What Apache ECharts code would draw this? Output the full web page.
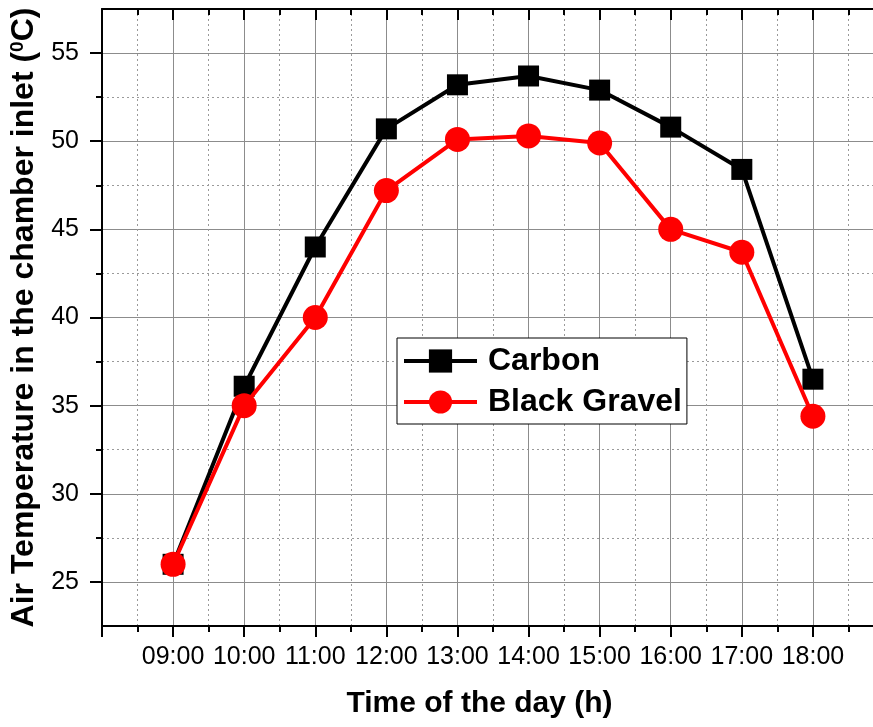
<!DOCTYPE html>
<html><head><meta charset="utf-8">
<script src="https://cdn.jsdelivr.net/npm/echarts@6/dist/echarts.min.js"></script>
<style>html,body{margin:0;padding:0;background:#fff}#c{width:873px;height:727px}</style>
</head><body><div id="c"></div>
<script>
const hours = [9, 10, 11, 12, 13, 14, 15, 16, 17, 18];
const hourLabels = ['09:00', '10:00', '11:00', '12:00', '13:00', '14:00', '15:00', '16:00', '17:00', '18:00'];
const carbon = [26.0, 36.1, 44.0, 50.7, 53.2, 53.7, 52.9, 50.8, 48.4, 36.5];
const gravel = [26.0, 35.0, 40.0, 47.2, 50.1, 50.3, 49.9, 45.0, 43.7, 34.4];
const yMajorTicks = [25, 30, 35, 40, 45, 50, 55];
const yMinorTicks = [27.5, 32.5, 37.5, 42.5, 47.5, 52.5];
const seriesNames = ['Carbon', 'Black Gravel'];
const xTitle = 'Time of the day (h)';
const yTitle = 'Air Temperature in the chamber inlet ({sup|0}C)';

const FONT = '"Liberation Sans", Arial, Helvetica, sans-serif';
const solidGrid = { color: '#8c8c8c', width: 1, type: 'solid' };
const dotGrid = { color: '#9a9a9a', width: 1, type: [2, 3] };
const axisBlack = { color: '#000', width: 2 };

const chart = echarts.init(document.getElementById('c'), null, { renderer: 'canvas' });
chart.setOption({
  backgroundColor: '#fff',
  animation: false,
  textStyle: { fontFamily: FONT },
  grid: { left: 102, top: 9, width: 782, height: 617, containLabel: false, outerBoundsMode: 'none' },
  legend: {
    data: seriesNames,
    orient: 'vertical',
    left: 397, top: 338,
    itemWidth: 73, itemHeight: 29, itemGap: 9,
    padding: [7, 5, 6, 5],
    borderColor: '#000', borderWidth: 1, backgroundColor: '#fff',
    lineStyle: { width: 4 },
    textStyle: { fontFamily: FONT, fontSize: 32, fontWeight: 'bold', color: '#000', padding: [0, 0, 0, 6] }
  },
  xAxis: [{
    type: 'value', position: 'bottom', min: 8, max: 19, interval: 1,
    axisLine: { show: true, onZero: false, lineStyle: axisBlack },
    axisTick: { show: true, inside: false, length: 11, lineStyle: axisBlack },
    minorTick: { show: true, splitNumber: 2, length: 6, lineStyle: axisBlack },
    splitLine: { show: true, lineStyle: solidGrid },
    minorSplitLine: { show: true, lineStyle: dotGrid },
    axisLabel: {
      fontFamily: FONT, fontSize: 25, color: '#000', margin: 19,
      formatter: v => { const i = hours.indexOf(v); return i >= 0 ? hourLabels[i] : ''; }
    },
    name: xTitle, nameLocation: 'middle', nameGap: 63,
    nameTextStyle: { fontFamily: FONT, fontSize: 30, fontWeight: 'bold', color: '#000', padding: [0, 27, 0, 0] }
  }, {
    type: 'value', position: 'top', min: 8, max: 19, interval: 1,
    axisLine: { show: true, onZero: false, lineStyle: axisBlack },
    axisTick: { show: true, inside: true, length: 11, lineStyle: axisBlack },
    minorTick: { show: true, splitNumber: 2, length: 6, lineStyle: axisBlack },
    splitLine: { show: false }, axisLabel: { show: false }
  }],
  yAxis: [{
    type: 'value', position: 'left', min: 22.5, max: 57.5,
    axisLine: { show: true, onZero: false, lineStyle: axisBlack },
    axisTick: { show: true, inside: false, length: 12, customValues: yMajorTicks, lineStyle: axisBlack },
    axisLabel: { customValues: yMajorTicks, fontFamily: FONT, fontSize: 25, color: '#000', margin: 23 },
    splitLine: { show: true, lineStyle: solidGrid },
    name: yTitle, nameLocation: 'middle', nameGap: 53, nameRotate: 90,
    nameTextStyle: {
      fontFamily: FONT, fontSize: 32, fontWeight: 'bold', color: '#000',
      rich: { sup: { fontFamily: FONT, fontSize: 19, fontWeight: 'bold', color: '#000', padding: [0, 0, 13, 0] } }
    }
  }, {
    type: 'value', position: 'left', offset: 0, min: 22.5, max: 57.5,
    axisLine: { show: false },
    axisTick: { show: true, inside: false, length: 6, customValues: yMinorTicks, lineStyle: axisBlack },
    axisLabel: { show: false },
    splitLine: { show: true, lineStyle: dotGrid }
  }],
  series: [{
    name: seriesNames[0], type: 'line', xAxisIndex: 0, yAxisIndex: 0, z: 3,
    data: hours.map((h, i) => [h, carbon[i]]),
    symbol: 'rect', symbolSize: 21,
    lineStyle: { color: '#000', width: 4 },
    itemStyle: { color: '#000' }
  }, {
    name: seriesNames[1], type: 'line', xAxisIndex: 0, yAxisIndex: 0, z: 4,
    data: hours.map((h, i) => [h, gravel[i]]),
    symbol: 'circle', symbolSize: 25,
    lineStyle: { color: '#ff0000', width: 4 },
    itemStyle: { color: '#ff0000' }
  }]
});
</script></body></html>
